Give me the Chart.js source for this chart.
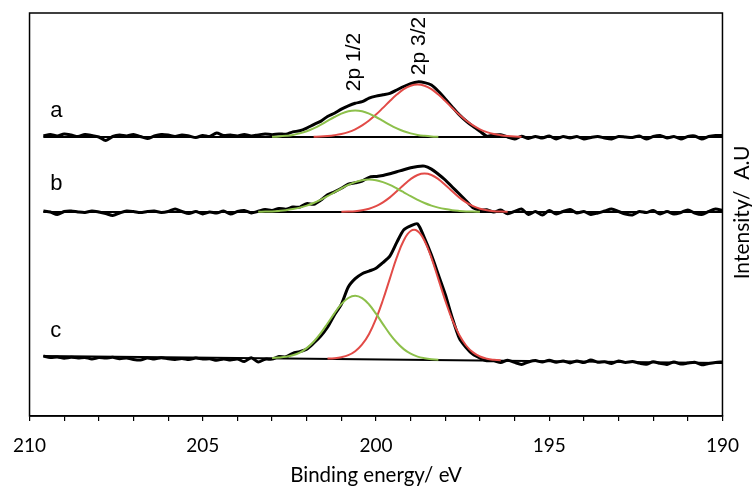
<!DOCTYPE html>
<html>
<head>
<meta charset="utf-8">
<script src="https://cdn.jsdelivr.net/npm/chart.js@4.4.1/dist/chart.umd.min.js"></script>
<style>
  html, body { margin: 0; padding: 0; background: #fff; }
  #xpsCanvas { display: block; }
</style>
</head>
<body>
<canvas id="xpsCanvas" width="752" height="488"></canvas>
<script>
// binding energy grid of the measured spectra (eV)
const energy = [
  209.6, 209.4, 209.2, 209.0, 208.8, 208.6, 208.4, 208.2, 208.0, 207.8,
  207.6, 207.4, 207.2, 207.0, 206.8, 206.6, 206.4, 206.2, 206.0, 205.8,
  205.6, 205.4, 205.2, 205.0, 204.8, 204.6, 204.4, 204.2, 204.0, 203.8,
  203.6, 203.4, 203.2, 203.0, 202.8, 202.6, 202.4, 202.2, 202.0, 201.8,
  201.6, 201.4, 201.2, 201.0, 200.8, 200.6, 200.4, 200.2, 200.0, 199.8,
  199.6, 199.4, 199.2, 199.0, 198.8, 198.6, 198.4, 198.2, 198.0, 197.8,
  197.6, 197.4, 197.2, 197.0, 196.8, 196.6, 196.4, 196.2, 196.0, 195.8,
  195.6, 195.4, 195.2, 195.0, 194.8, 194.6, 194.4, 194.2, 194.0, 193.8,
  193.6, 193.4, 193.2, 193.0, 192.8, 192.6, 192.4, 192.2, 192.0, 191.8,
  191.6, 191.4, 191.2, 191.0, 190.8, 190.6, 190.4, 190.2, 190.0
];

// measured intensity, spectra stacked with offsets (a.u.)
const sampleA = [
  280.0, 281.5, 280.0, 282.0, 281.0, 279.5, 281.5, 280.5, 279.0, 275.5,
  279.5, 281.0, 280.0, 281.5, 279.5, 277.5, 280.0, 281.5, 281.0, 279.5,
  281.0, 280.0, 278.5, 280.5, 279.5, 283.0, 280.5, 281.0, 280.0, 281.5,
  280.0, 281.1, 282.1, 281.3, 282.1, 281.7, 284.1, 285.2, 287.9, 291.4,
  294.6, 299.5, 302.8, 306.9, 310.1, 312.7, 314.3, 317.9, 319.9, 321.2,
  322.6, 326.0, 329.5, 332.4, 334.1, 333.4, 330.9, 324.7, 317.1, 309.1,
  301.4, 295.0, 289.6, 284.7, 279.9, 281.0, 281.3, 279.0, 277.0, 279.8,
  277.6, 279.6, 278.0, 280.0, 277.0, 279.5, 278.0, 279.5, 277.0, 278.5,
  279.5, 278.0, 277.0, 279.5, 279.0, 278.5, 280.0, 277.0, 279.5, 280.5,
  278.0, 279.5, 277.0, 279.5, 280.0, 277.0, 279.5, 280.5, 280.5
];
const sampleB = [
  205.0, 204.0, 201.5, 204.5, 205.0, 204.0, 203.5, 205.0, 204.0, 202.5,
  200.5, 203.0, 205.0, 204.5, 203.5, 204.5, 205.0, 203.5, 204.5, 207.0,
  204.5, 202.5, 204.5, 202.0, 204.0, 203.0, 205.0, 202.0, 204.5, 205.6,
  203.1, 204.7, 206.4, 205.6, 207.6, 206.8, 208.9, 208.9, 212.4, 211.7,
  215.7, 221.3, 224.2, 227.7, 231.9, 233.2, 235.0, 238.7, 239.6, 240.5,
  242.2, 244.2, 246.3, 248.2, 249.6, 249.9, 246.9, 241.8, 236.0, 229.0,
  222.2, 215.2, 208.2, 205.9, 206.3, 203.9, 205.9, 202.2, 204.6, 207.0,
  201.5, 204.5, 201.0, 205.5, 202.0, 204.5, 206.5, 203.0, 204.5, 201.5,
  203.0, 205.0, 207.0, 204.5, 202.0, 201.0, 204.5, 203.5, 205.5, 202.0,
  204.5, 202.0, 203.5, 206.0, 203.0, 201.5, 204.5, 207.0, 205.5
];
const sampleC = [
  60.0, 58.4, 58.9, 57.8, 58.7, 58.1, 58.6, 57.0, 58.4, 57.9,
  58.8, 57.2, 58.1, 56.6, 56.0, 57.9, 56.9, 58.3, 57.2, 56.6,
  57.6, 56.5, 57.9, 56.9, 57.3, 55.7, 57.1, 56.1, 57.0, 54.4,
  58.3, 53.9, 56.8, 56.9, 59.4, 59.2, 62.7, 64.4, 66.9, 72.8,
  79.7, 88.8, 101.0, 111.6, 129.0, 137.3, 142.3, 144.9, 147.8, 153.4,
  159.9, 173.6, 186.1, 190.1, 192.2, 177.9, 160.9, 141.3, 121.5, 98.3,
  78.2, 68.5, 61.6, 58.0, 55.3, 55.2, 53.6, 55.8, 53.6, 51.6,
  54.0, 55.4, 53.9, 55.8, 53.7, 55.1, 53.1, 55.0, 53.4, 55.9,
  53.8, 54.2, 52.6, 55.1, 53.5, 54.4, 52.9, 51.8, 54.2, 52.6,
  51.6, 54.0, 51.9, 52.9, 53.8, 51.2, 52.6, 53.6, 54.0
];

// energy grid of the fitted components
const fitEnergy = [
  204.0, 203.8, 203.6, 203.4, 203.2, 203.0, 202.8, 202.6, 202.4, 202.2,
  202.0, 201.8, 201.6, 201.4, 201.2, 201.0, 200.8, 200.6, 200.4, 200.2,
  200.0, 199.8, 199.6, 199.4, 199.2, 199.0, 198.8, 198.6, 198.4, 198.2,
  198.0, 197.8, 197.6, 197.4, 197.2, 197.0, 196.8, 196.6, 196.4, 196.2,
  196.0, 195.8, 195.6, 195.4, 195.2, 195.0
];

// 2p 1/2 (green) and 2p 3/2 (red) components on top of the background
const fitA12 = [
  279.0, 279.0, 279.0, 279.1, 279.1, 279.3, 279.6, 280.2, 281.1, 282.6,
  284.7, 287.6, 291.1, 295.1, 299.0, 302.4, 304.7, 305.5, 304.7, 302.4,
  299.0, 295.1, 291.1, 287.6, 284.7, 282.6, 281.1, 280.2, 279.6, 279.3,
  279.1, 279.1, 279.0, 279.0, 279.0, 279.0, 279.0, 279.0, 279.0, 279.0,
  279.0, 279.0, 279.0, 279.0, 279.0, 279.0
];
const fitA32 = [
  279.0, 279.0, 279.0, 279.0, 279.0, 279.0, 279.0, 279.0, 279.0, 279.1,
  279.1, 279.3, 279.5, 280.0, 280.8, 282.0, 283.9, 286.7, 290.6, 295.5,
  301.4, 308.1, 315.0, 321.4, 326.8, 330.3, 331.5, 330.3, 326.8, 321.4,
  315.0, 308.1, 301.4, 295.5, 290.6, 286.7, 283.9, 282.0, 280.8, 280.0,
  279.5, 279.3, 279.1, 279.1, 279.0, 279.0
];
const fitB12 = [
  204.0, 204.1, 204.1, 204.2, 204.4, 204.6, 205.1, 205.8, 206.9, 208.4,
  210.4, 213.0, 216.2, 219.8, 223.7, 227.5, 231.1, 233.9, 235.8, 236.4,
  235.8, 233.9, 231.1, 227.5, 223.7, 219.8, 216.2, 213.0, 210.4, 208.4,
  206.9, 205.8, 205.1, 204.6, 204.4, 204.2, 204.1, 204.1, 204.0, 204.0,
  204.0, 204.0, 204.0, 204.0, 204.0, 204.0
];
const fitB32 = [
  204.0, 204.0, 204.0, 204.0, 204.0, 204.0, 204.0, 204.0, 204.0, 204.0,
  204.0, 204.0, 204.0, 204.0, 204.1, 204.2, 204.4, 204.8, 205.7, 207.3,
  209.8, 213.6, 218.6, 224.7, 231.1, 236.9, 241.0, 242.4, 241.0, 236.9,
  231.1, 224.7, 218.6, 213.6, 209.8, 207.3, 205.7, 204.8, 204.4, 204.2,
  204.1, 204.0, 204.0, 204.0, 204.0, 204.0
];
const fitC12 = [
  58.0, 57.9, 57.8, 57.9, 57.8, 57.9, 58.4, 59.2, 60.7, 63.4,
  67.9, 74.3, 82.6, 92.5, 102.7, 111.8, 118.0, 120.3, 117.9, 111.5,
  102.3, 91.9, 81.9, 73.5, 66.9, 62.3, 59.4, 57.8, 56.8, 56.2,
  56.0, 55.9, 55.7, 55.6, 55.6, 55.5, 55.4, 55.4, 55.3, 55.2,
  55.1, 55.1, 55.0, 54.9, 54.9, 54.8
];
const fitC32 = [
  58.0, 57.9, 57.8, 57.8, 57.7, 57.6, 57.6, 57.5, 57.4, 57.3,
  57.3, 57.2, 57.2, 57.4, 57.8, 58.8, 60.8, 64.8, 71.6, 82.1,
  97.1, 116.0, 137.4, 158.6, 175.5, 185.0, 184.9, 175.3, 158.2, 136.9,
  115.4, 96.3, 81.2, 70.5, 63.6, 59.5, 57.3, 56.2, 55.6, 55.3,
  55.1, 55.1, 55.0, 54.9, 54.9, 54.8
];

// backgrounds (start and end of each spectrum)
const baseEnergy = [209.6, 190.0];
const baseA = [279.0, 279.0];
const baseB = [204.0, 204.0];
const baseC = [60.0, 53.0];

const sampleNames = ['a', 'b', 'c'];

const green = '#8dc04b';
const red = '#e24b47';

Chart.defaults.font.family = 'Lato';
Chart.defaults.color = '#000';

function toPoints(xs, ys) {
    return xs.map((x, i) => ({ x: x, y: ys[i] }));
}

function lineSet(xs, ys, color, width, order, tension) {
    return {
        data: toPoints(xs, ys),
        borderColor: color,
        borderWidth: width,
        pointRadius: 0,
        fill: false,
        tension: tension,
        order: order
    };
}

// a fit line, faded where it only runs along the background
function fitSet(ys, color) {
    let set = lineSet(fitEnergy, ys, color, 2, 1, 0.4);
    let first = ys[0];
    let last = ys[ys.length - 1];
    let onBase = function (i) {
        let bg = first + (last - first) * i / (ys.length - 1);
        return Math.abs(ys[i] - bg) < 0.35;
    };
    set.segment = {
        borderColor: function (seg) {
            return onBase(seg.p0DataIndex) && onBase(seg.p1DataIndex) ? 'rgba(0,0,0,0)' : undefined;
        }
    };
    return set;
}

// frame, sample letters, peak names and the right-hand title
const decorations = {
    id: 'decorations',
    afterDraw(chart) {
        const ctx = chart.ctx;
        const area = chart.chartArea;
        const x = chart.scales.x;
        const y = chart.scales.y;

        ctx.save();
        ctx.strokeStyle = '#000';
        ctx.lineWidth = 1.5;
        ctx.strokeRect(area.left, area.top, area.right - area.left, area.bottom - area.top);

        ctx.fillStyle = '#000';
        ctx.font = '22px "Liberation Sans"';
        ctx.textAlign = 'left';
        ctx.textBaseline = 'alphabetic';
        const letterY = [299, 226, 79];
        for (let i = 0; i < sampleNames.length; i++) {
            ctx.fillText(sampleNames[i], x.getPixelForValue(209.4), y.getPixelForValue(letterY[i]));
        }

        // peak names, written upwards
        const peaks = [['2p 1/2', 200.62, 354], ['2p 3/2', 198.75, 370]];
        ctx.font = '21px "Liberation Sans"';
        ctx.textAlign = 'center';
        ctx.textBaseline = 'middle';
        peaks.forEach(p => {
            ctx.save();
            ctx.translate(x.getPixelForValue(p[1]), y.getPixelForValue(p[2]));
            ctx.rotate(-Math.PI / 2);
            ctx.fillText(p[0], 0, 0);
            ctx.restore();
        });

        ctx.font = '21px Lato';
        ctx.textBaseline = 'alphabetic';
        ctx.translate(749, (area.top + area.bottom) / 2 - 2);
        ctx.rotate(-Math.PI / 2);
        ctx.fillText('Intensity/  A.U', 0, 0);
        ctx.restore();
    }
};

const ctx = document.getElementById('xpsCanvas').getContext('2d');
const chart = new Chart(ctx, {
    type: 'line',
    data: {
        datasets: [
            fitSet(fitA12, green),
            fitSet(fitA32, red),
            fitSet(fitB12, green),
            fitSet(fitB32, red),
            fitSet(fitC12, green),
            fitSet(fitC32, red),
            lineSet(baseEnergy, baseA, '#000', 2, 2, 0),
            lineSet(baseEnergy, baseB, '#000', 2, 2, 0),
            lineSet(baseEnergy, baseC, '#000', 2, 2, 0),
            lineSet(energy, sampleA, '#000', 3, 3, 0.25),
            lineSet(energy, sampleB, '#000', 3, 3, 0.25),
            lineSet(energy, sampleC, '#000', 3, 3, 0.25)
        ]
    },
    options: {
        responsive: false,
        devicePixelRatio: 1,
        animation: false,
        layout: {
            padding: { top: 13, left: 29, right: 28, bottom: 0 }
        },
        plugins: {
            legend: { display: false },
            tooltip: { enabled: false }
        },
        scales: {
            x: {
                type: 'linear',
                reverse: true,
                min: 190,
                max: 210,
                afterFit: function (scale) {
                    scale.height = 72;
                },
                ticks: {
                    stepSize: 1,
                    autoSkip: false,
                    maxRotation: 0,
                    padding: 13,
                    font: { size: 19 },
                    callback: function (value) {
                        return value % 5 === 0 ? value : '';
                    }
                },
                grid: {
                    drawOnChartArea: false,
                    drawTicks: true,
                    tickLength: 5,
                    color: '#000',
                    lineWidth: 1.2
                },
                border: { display: true, color: '#000', width: 1.5 },
                title: {
                    display: true,
                    text: 'Binding energy/ eV',
                    font: { size: 20.5 },
                    padding: { top: 0, bottom: 0 }
                }
            },
            y: {
                display: false,
                min: 0,
                max: 403
            }
        }
    },
    plugins: [decorations]
});
</script>
</body>
</html>
